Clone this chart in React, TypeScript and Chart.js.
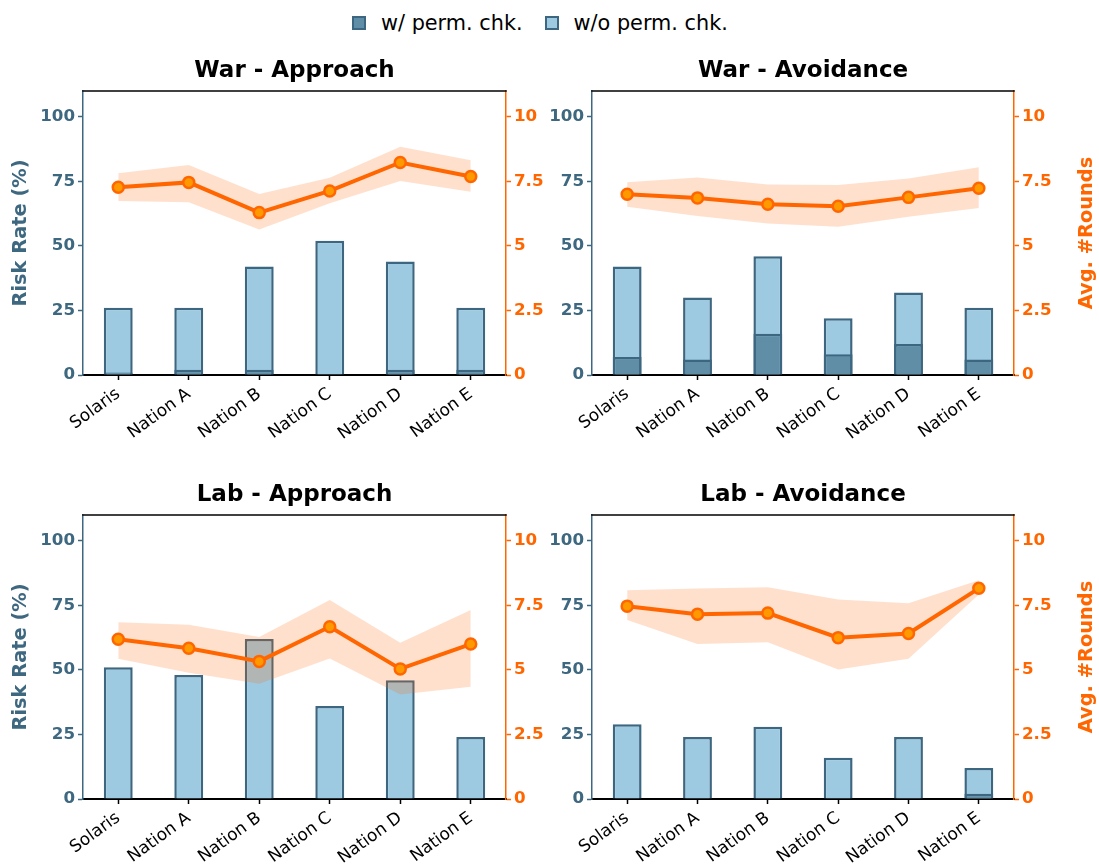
import React, { useEffect, useRef } from 'react';
import { Chart, registerables } from 'chart.js';

Chart.register(...registerables);

// ---------- data ----------
const categories = ['Solaris', 'Nation A', 'Nation B', 'Nation C', 'Nation D', 'Nation E'];
const riskTicks = [0, 25, 50, 75, 100];
const roundTicks = [0, 2.5, 5, 7.5, 10];
const legendLabels = ['w/ perm. chk.', 'w/o perm. chk.'];
const panelTitles = ['War - Approach', 'War - Avoidance', 'Lab - Approach', 'Lab - Avoidance'];
const leftAxisTitle = 'Risk Rate (%)';
const rightAxisTitle = 'Avg. #Rounds';

const warApproachWith = [1, 2, 2, 0, 2, 2];
const warApproachWithout = [26, 26, 42, 52, 44, 26];
const warApproachRounds = [7.27, 7.46, 6.29, 7.13, 8.23, 7.69];
const warApproachUpper = [7.81, 8.13, 7.01, 7.64, 8.84, 8.32];
const warApproachLower = [6.74, 6.69, 5.64, 6.65, 7.51, 7.1];

const warAvoidanceWith = [7, 6, 16, 8, 12, 6];
const warAvoidanceWithout = [42, 30, 46, 22, 32, 26];
const warAvoidanceRounds = [7.0, 6.86, 6.61, 6.54, 6.88, 7.23];
const warAvoidanceUpper = [7.47, 7.65, 7.38, 7.36, 7.61, 8.05];
const warAvoidanceLower = [6.52, 6.16, 5.87, 5.74, 6.13, 6.47];

const labApproachWith = [0, 0, 0, 0, 0, 0];
const labApproachWithout = [51, 48, 62, 36, 46, 24];
const labApproachRounds = [6.19, 5.84, 5.33, 6.67, 5.04, 6.0];
const labApproachUpper = [6.85, 6.75, 6.27, 7.71, 6.05, 7.32];
const labApproachLower = [5.43, 4.89, 4.46, 5.44, 4.05, 4.35];

const labAvoidanceWith = [0, 0, 0, 0, 0, 2];
const labAvoidanceWithout = [29, 24, 28, 16, 24, 12];
const labAvoidanceRounds = [7.47, 7.16, 7.2, 6.25, 6.41, 8.16];
const labAvoidanceUpper = [8.09, 8.15, 8.2, 7.73, 7.58, 8.47];
const labAvoidanceLower = [6.93, 6.0, 6.07, 5.02, 5.43, 7.92];

// ---------- style ----------
const FONT = '"DejaVu Sans", sans-serif';
const BLUE = '#3e6880';
const ORANGE = '#ff6600';
const LIGHT = '#9ecae1';
const DARK = '#608ea6';
const EDGE = '#3d6680';
const BAND = 'rgba(255,102,0,0.2)';
const MARKER = '#ff9900';

const panels = [
  { title: panelTitles[0], withChk: warApproachWith, withoutChk: warApproachWithout, rounds: warApproachRounds, upper: warApproachUpper, lower: warApproachLower, col: 0, row: 0 },
  { title: panelTitles[1], withChk: warAvoidanceWith, withoutChk: warAvoidanceWithout, rounds: warAvoidanceRounds, upper: warAvoidanceUpper, lower: warAvoidanceLower, col: 1, row: 0 },
  { title: panelTitles[2], withChk: labApproachWith, withoutChk: labApproachWithout, rounds: labApproachRounds, upper: labApproachUpper, lower: labApproachLower, col: 0, row: 1 },
  { title: panelTitles[3], withChk: labAvoidanceWith, withoutChk: labAvoidanceWithout, rounds: labAvoidanceRounds, upper: labAvoidanceUpper, lower: labAvoidanceLower, col: 1, row: 1 },
];

const colGeom = [
  { left: 0, width: 549, yWidth: 83, y1Width: 43 },
  { left: 549, width: 550, yWidth: 43, y1Width: 85 },
];
const rowGeom = [
  { top: 40, height: 420, xHeight: 85 },
  { top: 464, height: 402, xHeight: 67 },
];

type PanelCfg = (typeof panels)[number];

function Panel({ cfg }: { cfg: PanelCfg }) {
  const ref = useRef<HTMLCanvasElement | null>(null);
  const cg = colGeom[cfg.col];
  const rg = rowGeom[cfg.row];

  useEffect(() => {
    const canvas = ref.current;
    if (!canvas) return;

    const overlay = {
      id: 'overlay' + cfg.col + cfg.row,
      afterDraw(chart: any) {
        const { ctx, chartArea } = chart;
        const { left, right, top, bottom } = chartArea;
        ctx.save();
        // top spine
        ctx.strokeStyle = '#000';
        ctx.lineWidth = 1.5;
        ctx.beginPath();
        ctx.moveTo(left - 0.75, top);
        ctx.lineTo(right + 0.75, top);
        ctx.stroke();
        // subplot title
        ctx.fillStyle = '#000';
        ctx.font = `bold 23px ${FONT}`;
        ctx.textAlign = 'center';
        ctx.textBaseline = 'alphabetic';
        ctx.fillText(cfg.title, (left + right) / 2, top - 14.5);
        const cy = (top + bottom) / 2;
        ctx.font = `bold 19.4px ${FONT}`;
        ctx.textBaseline = 'middle';
        if (cfg.col === 0) {
          ctx.fillStyle = BLUE;
          ctx.translate(21, cy);
          ctx.rotate(-Math.PI / 2);
          ctx.fillText(leftAxisTitle, 0, 0);
        } else {
          ctx.fillStyle = ORANGE;
          ctx.translate(1087 - cg.left, cy);
          ctx.rotate(-Math.PI / 2);
          ctx.fillText(rightAxisTitle, 0, 0);
        }
        ctx.restore();
      },
    };

    const chart = new Chart(canvas, {
      type: 'bar',
      data: {
        labels: categories,
        datasets: [
          {
            type: 'bar',
            label: legendLabels[1],
            data: cfg.withoutChk,
            backgroundColor: LIGHT,
            borderColor: EDGE,
            borderWidth: 2.5,
            grouped: false,
            barPercentage: 0.41,
            categoryPercentage: 1,
            yAxisID: 'y',
            order: 3,
          },
          {
            type: 'bar',
            label: legendLabels[0],
            data: cfg.withChk,
            backgroundColor: DARK,
            borderColor: EDGE,
            borderWidth: 2.5,
            grouped: false,
            barPercentage: 0.41,
            categoryPercentage: 1,
            yAxisID: 'y',
            order: 2,
          },
          {
            type: 'line',
            label: 'upper',
            data: cfg.upper,
            borderColor: 'transparent',
            borderWidth: 0,
            pointRadius: 0,
            backgroundColor: BAND,
            fill: '+1',
            tension: 0,
            yAxisID: 'y1',
            order: 1,
          },
          {
            type: 'line',
            label: 'lower',
            data: cfg.lower,
            borderColor: 'transparent',
            borderWidth: 0,
            pointRadius: 0,
            backgroundColor: 'transparent',
            fill: false,
            tension: 0,
            yAxisID: 'y1',
            order: 1,
          },
          {
            type: 'line',
            label: rightAxisTitle,
            data: cfg.rounds,
            borderColor: ORANGE,
            borderWidth: 4,
            pointRadius: 5.5,
            pointBorderWidth: 2.5,
            pointBackgroundColor: MARKER,
            pointBorderColor: ORANGE,
            fill: false,
            tension: 0,
            yAxisID: 'y1',
            order: 0,
          },
        ],
      } as any,
      options: {
        responsive: false,
        animation: false,
        devicePixelRatio: 1,
        events: [],
        layout: { padding: { top: 51, left: 0, right: 0, bottom: 0 } },
        plugins: {
          legend: { display: false },
          tooltip: { enabled: false },
          title: { display: false },
        },
        scales: {
          x: {
            type: 'category',
            offset: true,
            grid: { display: true, offset: false, drawOnChartArea: false, drawTicks: true, tickLength: 5, tickColor: '#000', tickWidth: 1.5 },
            border: { display: true, color: '#000', width: 2 },
            ticks: {
              autoSkip: false,
              minRotation: 36,
              maxRotation: 36,
              color: '#000',
              padding: 4,
              font: { family: FONT, size: 17 },
            },
            afterFit: (s: any) => {
              s.height = rg.xHeight;
            },
          },
          y: {
            type: 'linear',
            position: 'left',
            min: 0,
            max: 110,
            afterBuildTicks: (s: any) => {
              s.ticks = riskTicks.map((v) => ({ value: v }));
            },
            ticks: {
              color: BLUE,
              padding: 3,
              font: { family: FONT, size: 16.7, weight: 'bold' },
              callback: (v: any) => String(v),
            },
            grid: { display: true, drawOnChartArea: false, drawTicks: true, tickLength: 5, tickColor: BLUE, tickWidth: 1.5 },
            border: { display: true, color: BLUE, width: 1.5 },
            afterFit: (s: any) => {
              s.width = cg.yWidth;
            },
          },
          y1: {
            type: 'linear',
            position: 'right',
            min: 0,
            max: 11,
            afterBuildTicks: (s: any) => {
              s.ticks = roundTicks.map((v) => ({ value: v }));
            },
            ticks: {
              color: ORANGE,
              padding: 3,
              font: { family: FONT, size: 16.7, weight: 'bold' },
              callback: (v: any) => String(v),
            },
            grid: { display: true, drawOnChartArea: false, drawTicks: true, tickLength: 5, tickColor: ORANGE, tickWidth: 1.5 },
            border: { display: true, color: ORANGE, width: 1.5 },
            afterFit: (s: any) => {
              s.width = cg.y1Width;
            },
          },
        },
      } as any,
      plugins: [overlay],
    });
    return () => chart.destroy();
  }, []);

  return (
    <canvas
      ref={ref}
      width={cg.width}
      height={rg.height}
      style={{ position: 'absolute', left: cg.left, top: rg.top, width: cg.width, height: rg.height, display: 'block' }}
    />
  );
}

function Legend() {
  const item = (label: string, color: string, last: boolean) => (
    <div style={{ display: 'flex', alignItems: 'center', marginRight: last ? 0 : 22 }}>
      <div style={{ width: 14, height: 14, boxSizing: 'border-box', background: color, border: `2px solid ${EDGE}`, marginRight: 15 }} />
      <span style={{ fontFamily: FONT, fontSize: 20.8, color: '#000', lineHeight: '24px', whiteSpace: 'nowrap' }}>{label}</span>
    </div>
  );
  return (
    <div style={{ position: 'absolute', left: 352, top: 10, height: 26, display: 'flex', alignItems: 'center' }}>
      {item(legendLabels[0], DARK, false)}
      {item(legendLabels[1], LIGHT, true)}
    </div>
  );
}

export default function App() {
  return (
    <div style={{ position: 'absolute', left: 0, top: 0, width: 1099, height: 866, background: '#fff', overflow: 'hidden' }}>
      <Legend />
      {panels.map((p, i) => (
        <Panel key={i} cfg={p} />
      ))}
    </div>
  );
}
